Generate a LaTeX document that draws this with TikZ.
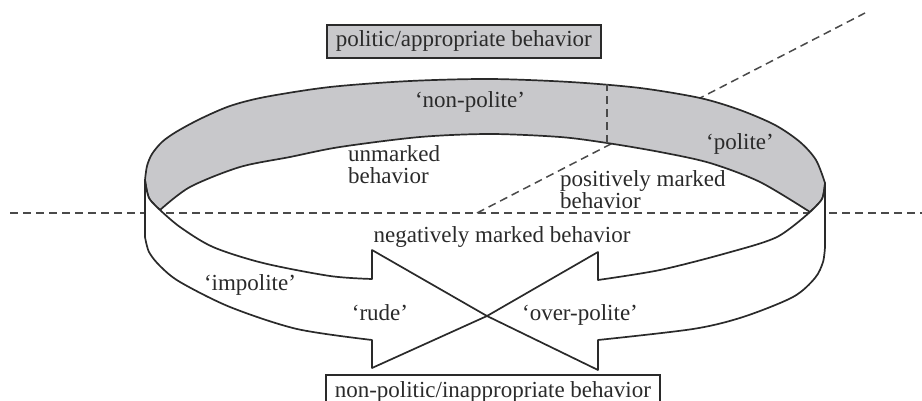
\documentclass[tikz,border=0pt]{standalone}
\usepackage{fontspec}
\setmainfont{Liberation Serif}
\definecolor{ink}{HTML}{2A2A2A}
\definecolor{bandgrey}{HTML}{C8C8CB}
\tikzset{
  edge/.style={draw=ink, line width=1.7pt, line join=round},
  guide/.style={draw=ink!85, line width=1.5pt, dash pattern=on 8pt off 5pt},
  band/.style={edge, fill=bandgrey},
  ribbon/.style={edge, fill=white},
  lbl/.style={font=\fontsize{23}{19}\selectfont, text=ink, inner sep=0pt},
  pair/.style={lbl, align=left, anchor=north west, font=\fontsize{23}{20.5}\selectfont},
  frame/.style={lbl, draw=ink, line width=1.5pt, inner xsep=9pt, inner ysep=6pt,
                text height=16pt, text depth=5pt},
}
\begin{document}
\begin{tikzpicture}[x=1pt, y=-1pt]
\useasboundingbox (0,0) rectangle (922,401);

% key points
\coordinate (tip) at (487,316);
\coordinate (hz west) at (10,213);
\coordinate (hz east) at (922,213);
\coordinate (dg low) at (477,213);
\coordinate (dg high) at (865,13);
\coordinate (vt low) at (607,143);
\coordinate (vt high) at (607,84);

% horizontal and diagonal guide lines (behind the ring)
\draw[guide] (hz west) -- (hz east);
\draw[guide] (dg low) -- (dg high);

% inner (back) face of the ring
\filldraw[band]
  plot[smooth] coordinates {(145,180) (147,166) (152,154) (162,142) (176,132)
    (200,119) (230,106) (265,97) (330,87) (410,81) (490,79) (570,82) (640,88)
    (700,98) (740,110) (775,125) (800,142) (816,160) (825,183)}
  -- plot[smooth] coordinates {(825,183) (822,199) (810,212)}
  -- plot[smooth] coordinates {(810,212) (760,182) (710,163) (660,152) (607,143)
    (560,137) (490,134) (420,137) (340,147) (290,157) (240,167) (190,187) (160,210)}
  -- plot[smooth] coordinates {(160,210) (149,198) (145,180)} -- cycle;

% division between 'non-polite' and 'polite'
\draw[guide] (vt low) -- (vt high);

% front left ribbon ending in an arrowhead
\filldraw[ribbon] (145,180) -- (145,237)
  -- plot[smooth] coordinates {(145,237) (149,252) (160,266) (180,282) (230,307)
    (297,329) (372,340)}
  -- (372,368) -- (tip) -- (372,250) -- (372,279)
  -- plot[smooth] coordinates {(372,279) (330,276) (263,263) (213,247) (180,227) (160,210)}
  -- plot[smooth] coordinates {(160,210) (149,198) (145,180)} -- cycle;

% front right ribbon ending in an arrowhead
\filldraw[ribbon] (825,183) -- (825,247)
  -- plot[smooth] coordinates {(825,247) (823,262) (815,278) (793,297) (743,317)
    (693,329) (598,340)}
  -- (598,370) -- (tip) -- (598,252) -- (598,280)
  -- plot[smooth] coordinates {(598,280) (660,270) (727,253) (777,237) (810,212)}
  -- plot[smooth] coordinates {(810,212) (822,199) (825,183)} -- cycle;

% labels
\node[frame, fill=bandgrey, anchor=base west] (politic) at (326,47) {politic/appropriate behavior};
\node[frame, anchor=base west] (nonpolitic) at (325,397) {non-politic/inappropriate behavior};

\node[lbl, anchor=mid] (nonpolite) at (470,105) {‘non-polite’};
\node[lbl, anchor=mid] (polite) at (740,147) {‘polite’};
\node[pair, font=\fontsize{23}{22}\selectfont] (unmarked) at (348,145) {unmarked\\behavior};
\node[pair] (positive) at (560,170) {positively marked\\behavior};
\node[lbl, anchor=mid] (neg) at (502,240) {negatively marked behavior};
\node[lbl, anchor=mid] (impolite) at (250,288) {‘impolite’};
\node[lbl, anchor=mid] (rude) at (380,318) {‘rude’};
\node[lbl, anchor=mid] (overpolite) at (580,318) {‘over-polite’};
\end{tikzpicture}
\end{document}
